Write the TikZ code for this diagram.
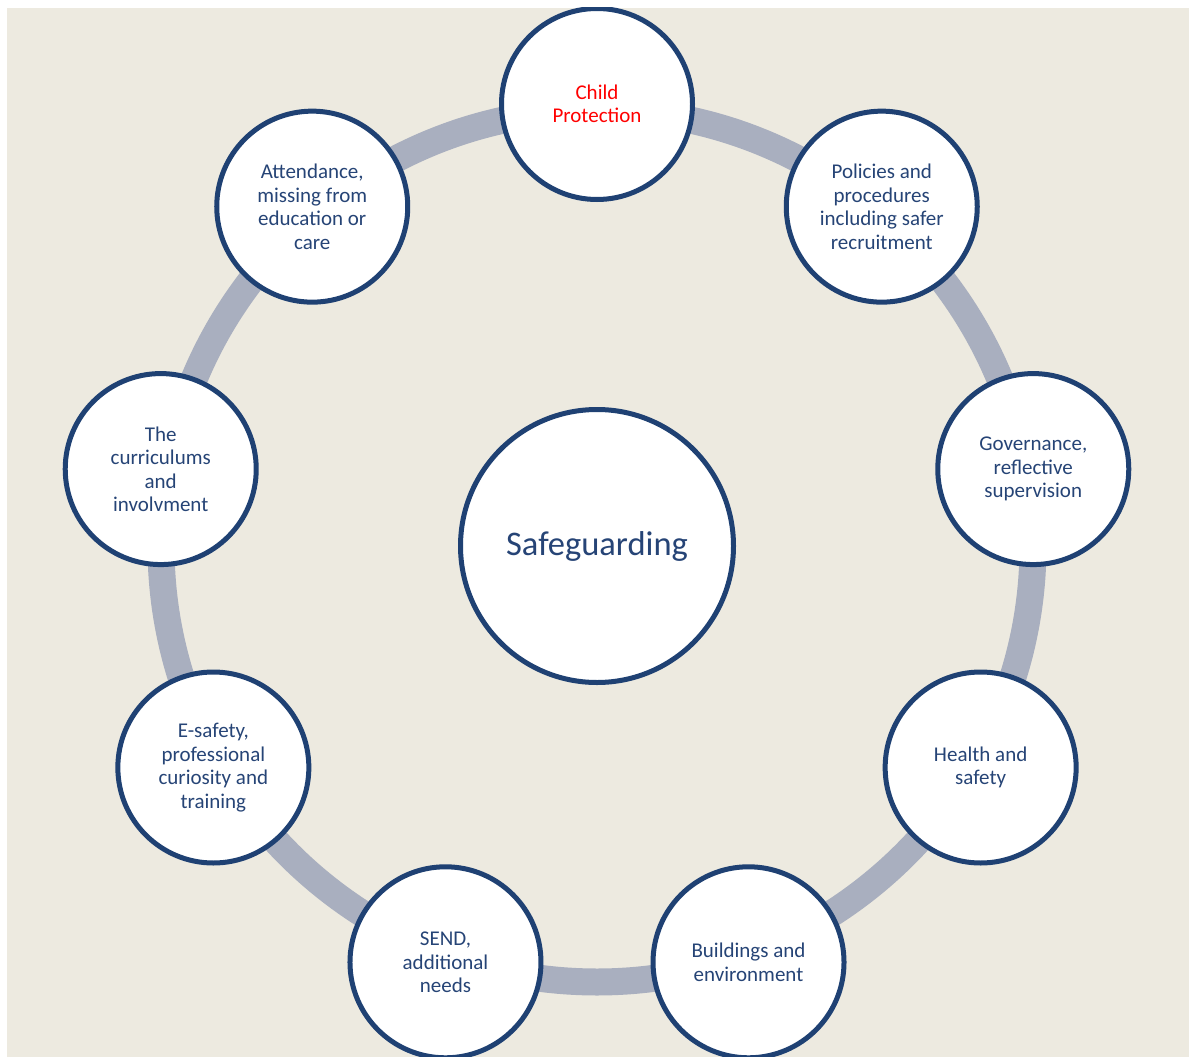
\documentclass[tikz,border=0pt]{standalone}
\usepackage{fontspec}
\setmainfont{Carlito}
\usetikzlibrary{calc}
\definecolor{bgbeige}{RGB}{237,234,224}
\definecolor{ringgray}{RGB}{169,175,191}
\definecolor{navyline}{RGB}{31,65,115}
\definecolor{navytext}{RGB}{38,68,118}
\definecolor{cpred}{RGB}{255,0,0}
\tikzset{
  topic/.style={circle, draw=navyline, line width=5pt, fill=white, minimum size=191pt, inner sep=0pt,
    align=center, text=navytext, font=\fontsize{21}{23.5}\selectfont},
  hub/.style={circle, draw=navyline, line width=5pt, fill=white, minimum size=273pt, inner sep=0pt,
    text=navytext, font=\fontsize{34.5}{40}\selectfont},
  ring/.style={draw=ringgray, line width=27pt}
}
\begin{document}
\begin{tikzpicture}[x=1pt,y=1pt]
\useasboundingbox (0,0) rectangle (1189,-1057);
\fill[bgbeige] (7,-8) rectangle (1189,-1057);
\begin{scope}
\clip (7,-8) rectangle (1189,-1057);
\coordinate (o) at (597,-546);
\draw[ring] (o) circle[radius=436];
\node[hub] (hub) at (o) {Safeguarding};
\node[topic, text=cpred] (cp) at ($(o)+(90:442)$) {Child\\Protection};
\node[topic] (pol) at ($(o)+(50:443)$) {Policies and\\procedures\\including safer\\recruitment};
\node[topic] (gov) at ($(o)+(10:443)$) {Governance,\\reflective\\supervision};
\node[topic] (hs) at ($(o)+(-30:443)$) {Health and\\safety};
\node[topic] (bld) at ($(o)+(-70:443)$) {Buildings and\\environment};
\node[topic] (send) at ($(o)+(-110:443)$) {SEND,\\additional\\needs};
\node[topic] (es) at ($(o)+(-150:443)$) {E-safety,\\professional\\curiosity and\\training};
\node[topic] (cur) at ($(o)+(170:443)$) {The\\curriculums\\and\\involvment};
\node[topic] (att) at ($(o)+(130:443)$) {Attendance,\\missing from\\education or\\care};
\end{scope}
\end{tikzpicture}
\end{document}
